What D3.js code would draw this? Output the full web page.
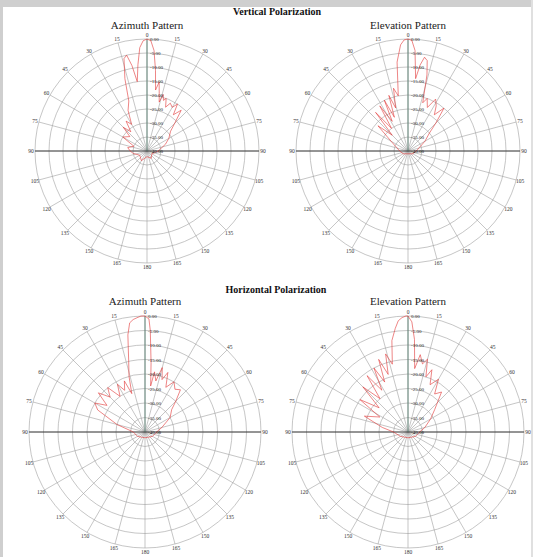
<!DOCTYPE html>
<html><head><meta charset="utf-8">
<script src="https://cdn.jsdelivr.net/npm/d3@7"></script>
<style>html,body{margin:0;padding:0;background:#fff}svg{display:block}</style>
</head><body>
<script>
// ---- data ----
const dbTicks = [0, -5, -10, -15, -20, -25, -30, -35, -40];
const angleTicks = [0,15,30,45,60,75,90,105,120,135,150,165,180,195,210,225,240,255,270,285,300,315,330,345];
const sectionTitles = ["Vertical Polarization", "Horizontal Polarization"];
const plotTitles = ["Azimuth Pattern", "Elevation Pattern", "Azimuth Pattern", "Elevation Pattern"];

const vAzAngles = [-180,-150,-120,-100,-90,-80,-70,-60,-50,-45,-40,-35,-30,-25,-20,-17,-14,-12,-10,-8,-6,-4,-2,0,2,4,6,8,10,12,14,16,18,20,23,26,30,33,36,40,45,50,60,70,80,90,100,120,150,180];
const vAzGain   = [-38,-36,-37,-35,-34,-33,-35,-30,-32,-28,-31,-27,-29,-24,-21,-13,-6,-5,-9,-15,-9,-3,-0.6,0,-0.6,-4,-11,-18,-15,-19,-22,-19,-21,-20,-23,-21,-22,-20,-24,-21,-26,-29,-31,-33,-35,-36,-37,-38,-37,-38];

const vElAngles = [-180,-120,-90,-75,-60,-50,-45,-40,-36,-32,-28,-25,-22,-19,-16,-13,-10,-7,-4,-2,0,2,4,6,8,10,12,14,17,20,24,28,32,36,40,45,50,60,75,90,120,180];
const vElGain   = [-39,-38,-37,-36,-33,-26,-32,-22,-30,-21,-28,-20,-27,-19,-24,-17,-20,-8,-2,-0.3,0,-0.5,-4,-14,-9,-6,-7,-12,-22,-20,-23,-19,-21,-24,-20,-26,-30,-33,-36,-37,-38,-39];

const hAzAngles = [-180,-120,-90,-75,-65,-60,-55,-50,-45,-40,-35,-30,-26,-22,-19,-16,-13,-10,-8,-6,-4,-2,0,2,3,5,7,9,12,15,18,21,25,30,35,40,45,50,60,75,90,120,180];
const hAzGain   = [-38,-37,-36,-30,-22,-20,-24,-19,-23,-20,-25,-21,-24,-21,-26,-20,-15,-6,-2,-1,-0.5,0,0,-1,-5,-16,-24,-19,-22,-17,-21,-18,-23,-20,-22,-21,-25,-28,-30,-34,-36,-37,-38];

const hElAngles = [-180,-120,-90,-80,-70,-62,-56,-50,-45,-40,-36,-32,-28,-25,-22,-19,-16,-13,-10,-7,-5,-3,-1,0,2,4,6,9,12,15,18,21,25,30,35,40,50,60,75,90,120,180];
const hElGain   = [-38,-37,-35,-31,-24,-29,-20,-27,-18,-25,-16,-23,-15,-21,-13,-19,-12,-16,-8,-4,-1.5,-0.5,0,0,-2,-8,-18,-13,-16,-14,-20,-17,-22,-19,-24,-22,-28,-31,-34,-36,-37,-38];

// ---- layout ----
const W = 533, H = 557;
const svg = d3.select("body").append("svg").attr("width", W).attr("height", H);
svg.append("rect").attr("width", W).attr("height", H).attr("fill", "#fff");
svg.append("rect").attr("x", 0).attr("y", 0).attr("width", W).attr("height", 7).attr("fill", "#cfcfcf");
svg.append("rect").attr("x", 0).attr("y", 0).attr("width", 3).attr("height", H).attr("fill", "#cfcfcf");
svg.append("rect").attr("x", W - 2).attr("y", 0).attr("width", 2).attr("height", H).attr("fill", "#e0e0e0");

const serif = "'Liberation Serif','DejaVu Serif',serif";
svg.append("text").attr("x", 277).attr("y", 15).attr("text-anchor", "middle")
  .attr("font-family", serif).attr("font-weight", "bold").attr("font-size", 10).attr("fill", "#111").text(sectionTitles[0]);
svg.append("text").attr("x", 276).attr("y", 293).attr("text-anchor", "middle")
  .attr("font-family", serif).attr("font-weight", "bold").attr("font-size", 10).attr("fill", "#111").text(sectionTitles[1]);

const plots = [
  {cx: 147, cy: 151, R: 112, ty: 29, title: plotTitles[0], angles: vAzAngles, gains: vAzGain},
  {cx: 408, cy: 151, R: 112, ty: 29, title: plotTitles[1], angles: vElAngles, gains: vElGain},
  {cx: 145, cy: 432, R: 116, ty: 305, title: plotTitles[2], angles: hAzAngles, gains: hAzGain},
  {cx: 408, cy: 432, R: 116, ty: 305, title: plotTitles[3], angles: hElAngles, gains: hElGain}
];

const toRad = d => d * Math.PI / 180;

plots.forEach(p => {
  const g = svg.append("g").attr("transform", `translate(${p.cx},${p.cy})`);
  const r = d3.scaleLinear().domain([-40, 0]).range([0, p.R]).clamp(true);

  svg.append("text").attr("x", p.cx).attr("y", p.ty).attr("text-anchor", "middle")
    .attr("font-family", serif).attr("font-size", 11).attr("fill", "#222").text(p.title);

  // rings
  g.selectAll("circle.ring").data(dbTicks.filter(d => d > -40)).join("circle")
    .attr("class", "ring").attr("r", d => r(d)).attr("fill", "none")
    .attr("stroke", "#a0a0a0").attr("stroke-width", 0.6);

  // spokes
  g.selectAll("line.spoke").data(angleTicks).join("line")
    .attr("class", "spoke")
    .attr("x1", 0).attr("y1", 0)
    .attr("x2", d => r(0) * Math.sin(toRad(d)))
    .attr("y2", d => -r(0) * Math.cos(toRad(d)))
    .attr("stroke", "#a0a0a0").attr("stroke-width", 0.6);

  // main axes
  g.append("line").attr("x1", -r(0)).attr("x2", r(0)).attr("y1", 0).attr("y2", 0)
    .attr("stroke", "#222").attr("stroke-width", 0.8);
  g.append("line").attr("x1", 0).attr("x2", 0).attr("y1", 0).attr("y2", -r(0))
    .attr("stroke", "#4f7a6a").attr("stroke-width", 0.8);

  // angle labels
  const lr = p.R + 4;
  g.selectAll("text.ang").data(angleTicks).join("text")
    .attr("class", "ang")
    .attr("x", d => lr * Math.sin(toRad(d)))
    .attr("y", d => -lr * Math.cos(toRad(d)) + 2)
    .attr("text-anchor", "middle")
    .attr("font-family", serif).attr("font-size", 5.5).attr("fill", "#333")
    .text(d => d <= 180 ? d : 360 - d);

  // pattern
  const data = p.angles.map((a, i) => ({a: a, v: p.gains[i]}));
  const line = d3.lineRadial().angle(d => toRad(d.a)).radius(d => r(d.v)).curve(d3.curveLinearClosed);
  g.append("path").datum(data).attr("d", line).attr("fill", "none")
    .attr("stroke", "#e03434").attr("stroke-width", 0.6);

  // dB labels
  g.selectAll("text.db").data(dbTicks).join("text")
    .attr("class", "db")
    .attr("x", 3).attr("y", d => -r(d) + 2)
    .attr("font-family", serif).attr("font-size", 5).attr("fill", "#222")
    .text(d => d.toFixed(2));
});
</script>
</body></html>
